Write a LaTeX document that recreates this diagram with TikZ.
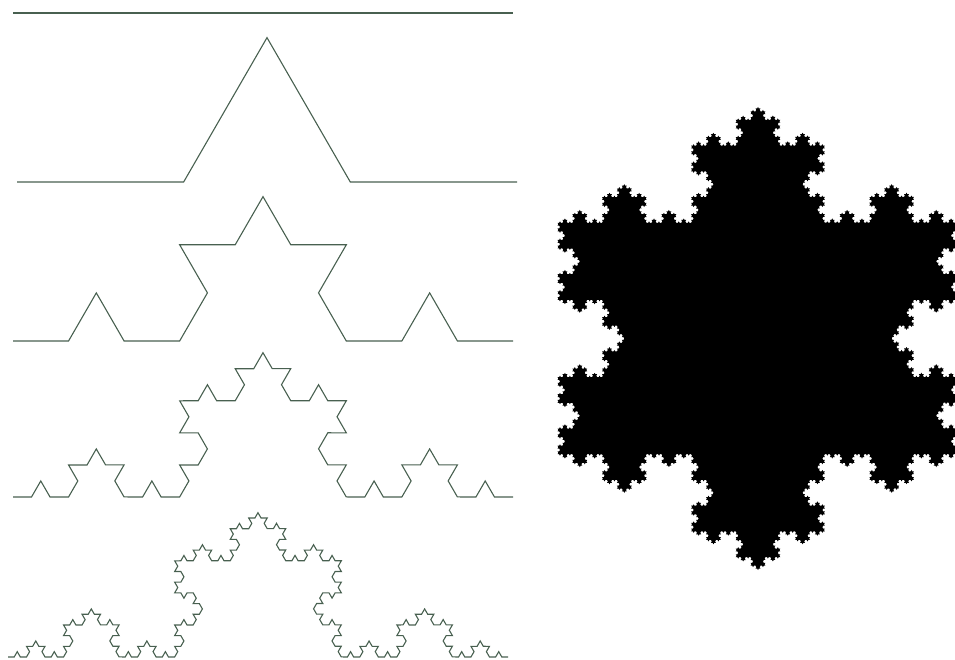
\documentclass[tikz,border=0pt]{standalone}
\usepackage{tikz}
\usetikzlibrary{decorations.fractals}
\definecolor{kochLine}{RGB}{72,96,80}
\definecolor{flakeFill}{RGB}{0,0,0}

\begin{document}
\begin{tikzpicture}[x=1pt, y=1pt, decoration=Koch snowflake,
    curve/.style={kochLine, line width=1.1pt, line join=miter}]
    \useasboundingbox (0,0) rectangle (955,660);
    % Level 0: straight segment
    \draw[curve] (13,647) -- (513,647);
    % Level 1
    \draw[curve] decorate{ (17,478) -- (517,478) };
    % Level 2
    \draw[curve] decorate{ decorate{ (13,319) -- (513,319) } };
    % Level 3
    \draw[curve] decorate{ decorate{ decorate{ (13,163) -- (513,163) } } };
    % Level 4
    \draw[curve] decorate{ decorate{ decorate{ decorate{ (8,3) -- (508,3) } } } };
    % Snowflake (triangle traversed clockwise, bumps outward)
    \fill[flakeFill] decorate{ decorate{ decorate{ decorate{ decorate{
      (758,553) -- (958.5,205.75) -- (557.5,205.75) -- (758,553) } } } } };
\end{tikzpicture}
\end{document}
